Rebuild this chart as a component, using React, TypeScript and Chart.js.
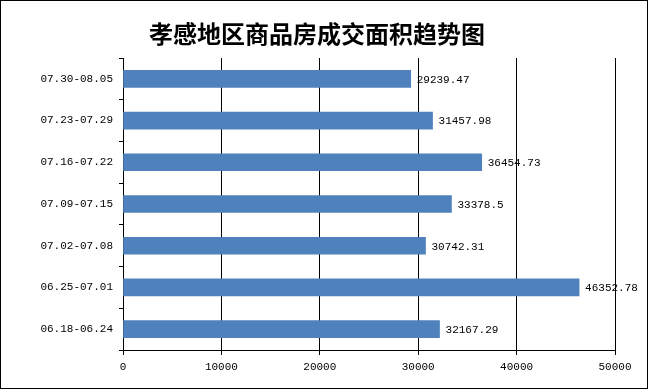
import React, { useEffect, useRef } from "react";
import { Chart, registerables } from "chart.js";

Chart.register(...registerables);

const chartTitle = "孝感地区商品房成交面积趋势图";
const categories = [
  "07.30-08.05",
  "07.23-07.29",
  "07.16-07.22",
  "07.09-07.15",
  "07.02-07.08",
  "06.25-07.01",
  "06.18-06.24",
];
const areaValues = [29239.47, 31457.98, 36454.73, 33378.5, 30742.31, 46352.78, 32167.29];
const valueLabels = ["29239.47", "31457.98", "36454.73", "33378.5", "30742.31", "46352.78", "32167.29"];
const xMin = 0;
const xMax = 50000;
const xStep = 10000;

const MONO = "'Liberation Mono', 'DejaVu Sans Mono', monospace";

export default function App() {
  const ref = useRef<HTMLCanvasElement | null>(null);

  useEffect(() => {
    if (!ref.current) return;
    const frameAndTitle = {
      id: "frameAndTitle",
      beforeDraw(chart: any) {
        const ctx = chart.ctx;
        ctx.save();
        ctx.fillStyle = "#ffffff";
        ctx.fillRect(0, 0, chart.width, chart.height);
        ctx.restore();
      },
      afterDraw(chart: any) {
        const ctx = chart.ctx;
        ctx.save();
        ctx.strokeStyle = "#000000";
        ctx.lineWidth = 1;
        ctx.strokeRect(0.5, 0.5, 647, 388);
        ctx.fillStyle = "#000000";
        ctx.font = "bold 24px 'Noto Sans CJK SC', sans-serif";
        ctx.textAlign = "center";
        ctx.textBaseline = "middle";
        ctx.fillText(chartTitle, 317, 34);
        ctx.restore();
      },
    };
    const valueLabelPlugin = {
      id: "valueLabels",
      afterDatasetsDraw(chart: any) {
        const ctx = chart.ctx;
        const meta = chart.getDatasetMeta(0);
        ctx.save();
        ctx.fillStyle = "#000000";
        ctx.font = `11px ${MONO}`;
        ctx.textAlign = "left";
        ctx.textBaseline = "middle";
        meta.data.forEach((bar: any, i: number) => {
          ctx.fillText(valueLabels[i], bar.x + 6, bar.y + 1);
        });
        ctx.restore();
      },
    };
    const chart = new Chart(ref.current, {
      type: "bar",
      data: {
        labels: categories,
        datasets: [
          {
            data: areaValues,
            backgroundColor: "#4F81BD",
            borderWidth: 0,
            barThickness: 17,
          },
        ],
      },
      options: {
        indexAxis: "y",
        responsive: false,
        animation: false,
        devicePixelRatio: 1,
        layout: { padding: { left: 0, right: 34, top: 58, bottom: 0 } },
        plugins: {
          legend: { display: false },
          title: { display: false },
          tooltip: { enabled: false },
        },
        scales: {
          x: {
            min: xMin,
            max: xMax,
            ticks: {
              stepSize: xStep,
              color: "#000000",
              font: { family: MONO, size: 11 },
              padding: 5,
              maxRotation: 0,
              callback: (v: any) => String(v),
            },
            grid: {
              color: "#000000",
              lineWidth: 1,
              drawTicks: true,
              tickLength: 5,
            },
            border: { color: "#000000", width: 1 },
            afterFit(scale: any) {
              scale.height = 40;
            },
          },
          y: {
            ticks: {
              color: "#000000",
              font: { family: MONO, size: 11 },
              padding: 6,
            },
            grid: {
              offset: true,
              drawOnChartArea: false,
              drawTicks: true,
              tickLength: 4,
              color: "#000000",
            },
            border: { color: "#000000", width: 1 },
            afterFit(scale: any) {
              scale.width = 123;
            },
          },
        },
      },
      plugins: [frameAndTitle, valueLabelPlugin],
    } as any);
    return () => chart.destroy();
  }, []);

  return (
    <div style={{ position: "absolute", left: 0, top: 0, width: 649, height: 390, background: "#fff" }}>
      <canvas ref={ref} width={649} height={390} style={{ width: 649, height: 390, display: "block" }} />
    </div>
  );
}
